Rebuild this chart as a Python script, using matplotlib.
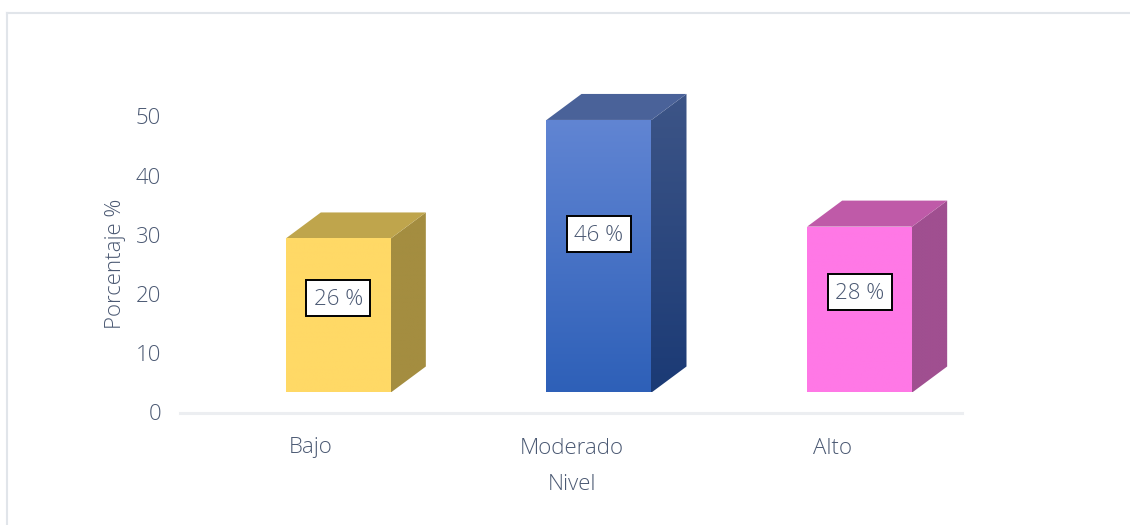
import numpy as np
import matplotlib
matplotlib.use("Agg")
import matplotlib.pyplot as plt
from matplotlib.lines import Line2D
from matplotlib.patches import Polygon, Rectangle
from matplotlib.transforms import offset_copy

categories = ["Bajo", "Moderado", "Alto"]
values = [26, 46, 28]
value_labels = ["26 %", "46 %", "28 %"]
y_ticks = [0, 10, 20, 30, 40, 50]

# face colours: front (top, bottom), side (top, bottom), roof
front_colors = [("#ffd966", "#ffd966"), ("#6185d3", "#2e60b8"), ("#ff78e6", "#ff78e6")]
side_colors = [("#a48d40", "#a48d40"), ("#3d5587", "#1b3a75"), ("#a04f90", "#a04f90")]
roof_colors = ["#bfa54c", "#4a6299", "#bf5aa8"]

TEXT = "#4b5973"
FONT = "Open Sans"
FS = 16
W, H = 1130, 525
AX_L, AX_R, AX_B, AX_T = 180.5, 962.5, 412.5, 57

plt.rcParams["font.family"] = [FONT, "DejaVu Sans"]
plt.rcParams["font.weight"] = "light"

fig = plt.figure(figsize=(W / 100, H / 100), dpi=100, facecolor="white")
ax = fig.add_axes([AX_L / W, 1 - AX_B / H, (AX_R - AX_L) / W, (AX_B - AX_T) / H])
ax.set_xlim(-0.5, 2.5)
ax.set_ylim(0, 60)
ax.patch.set_visible(False)

px_x = (AX_R - AX_L) / 3
px_y = (AX_B - AX_T) / 60
bar_w = 105 / px_x
depth_x = 35 / px_x
depth_y = 26 / px_y
seam = 1.5 / px_x

# the boxes stand on a floor set back from the axis line
raised = offset_copy(ax.transData, fig=fig, x=27.5, y=20, units="dots")


def shaded(poly, colors, extent, zorder):
    """Fill a polygon with a vertical two-colour gradient."""
    ax.add_patch(poly)
    poly.set_facecolor("none")
    poly.set_edgecolor("none")
    c0 = np.array(matplotlib.colors.to_rgb(colors[0]))
    c1 = np.array(matplotlib.colors.to_rgb(colors[1]))
    t = np.linspace(0, 1, 128)[:, None, None]
    grad = c0[None, None, :] * (1 - t) + c1[None, None, :] * t
    im = ax.imshow(grad, extent=extent, origin="upper", aspect="auto",
                   transform=raised, zorder=zorder, interpolation="bilinear")
    im.set_clip_path(poly)


for i, v in enumerate(values):
    l, r = i - bar_w / 2, i + bar_w / 2
    rb, rt = r + depth_x, v + depth_y
    # side face runs slightly under the front face so no gap shows at the edge
    shaded(Polygon([(r - seam, 0), (r, 0), (rb, depth_y), (rb, rt), (r, v), (r - seam, v)],
                   transform=raised),
           side_colors[i], (r - seam, rb, 0, rt), 2)
    ax.add_patch(Polygon([(l, v), (r, v), (rb, rt), (l + depth_x, rt)],
                         transform=raised, facecolor=roof_colors[i],
                         edgecolor="none", zorder=2.1))
    shaded(Polygon([(l, 0), (r, 0), (r, v), (l, v)], transform=raised),
           front_colors[i], (l, r, 0, v), 3)

    # value label in a black-framed box on the front face
    yc = 0.54 * v + 1.9
    ax.add_patch(Rectangle((i - 32 / px_x, yc - 18 / px_y), 64 / px_x, 36 / px_y,
                           transform=raised, facecolor="white", edgecolor="black",
                           linewidth=1.4, zorder=4))
    ax.text(i, yc - 1.5 / px_y, value_labels[i], transform=raised, ha="center", va="center",
            fontsize=FS, color=TEXT, zorder=5)

ax.set_xticks(range(3), categories)
ax.set_yticks(y_ticks)
ax.tick_params(length=0, labelsize=FS, labelcolor=TEXT)
ax.tick_params(axis="x", pad=18)
ax.tick_params(axis="y", pad=14)
for side in ("top", "right", "left"):
    ax.spines[side].set_visible(False)
ax.spines["bottom"].set_color("#eceef1")
ax.spines["bottom"].set_linewidth(2.2)

fig.text(116 / W, 1 - 264 / H, "Porcentaje %", rotation=90, ha="center", va="center",
         fontsize=FS, color=TEXT)
fig.text(572 / W, 1 - 484 / H, "Nivel", ha="center", va="center",
         fontsize=FS, color=TEXT)

# chart-area frame
frame = "#e1e5ea"
fig.add_artist(Line2D([7 / W, 7 / W], [0, 1 - 13 / H], color=frame, lw=1.5))
fig.add_artist(Line2D([7 / W, 1], [1 - 13 / H, 1 - 13 / H], color=frame, lw=1.5))

fig.savefig("out.png", dpi=100)
